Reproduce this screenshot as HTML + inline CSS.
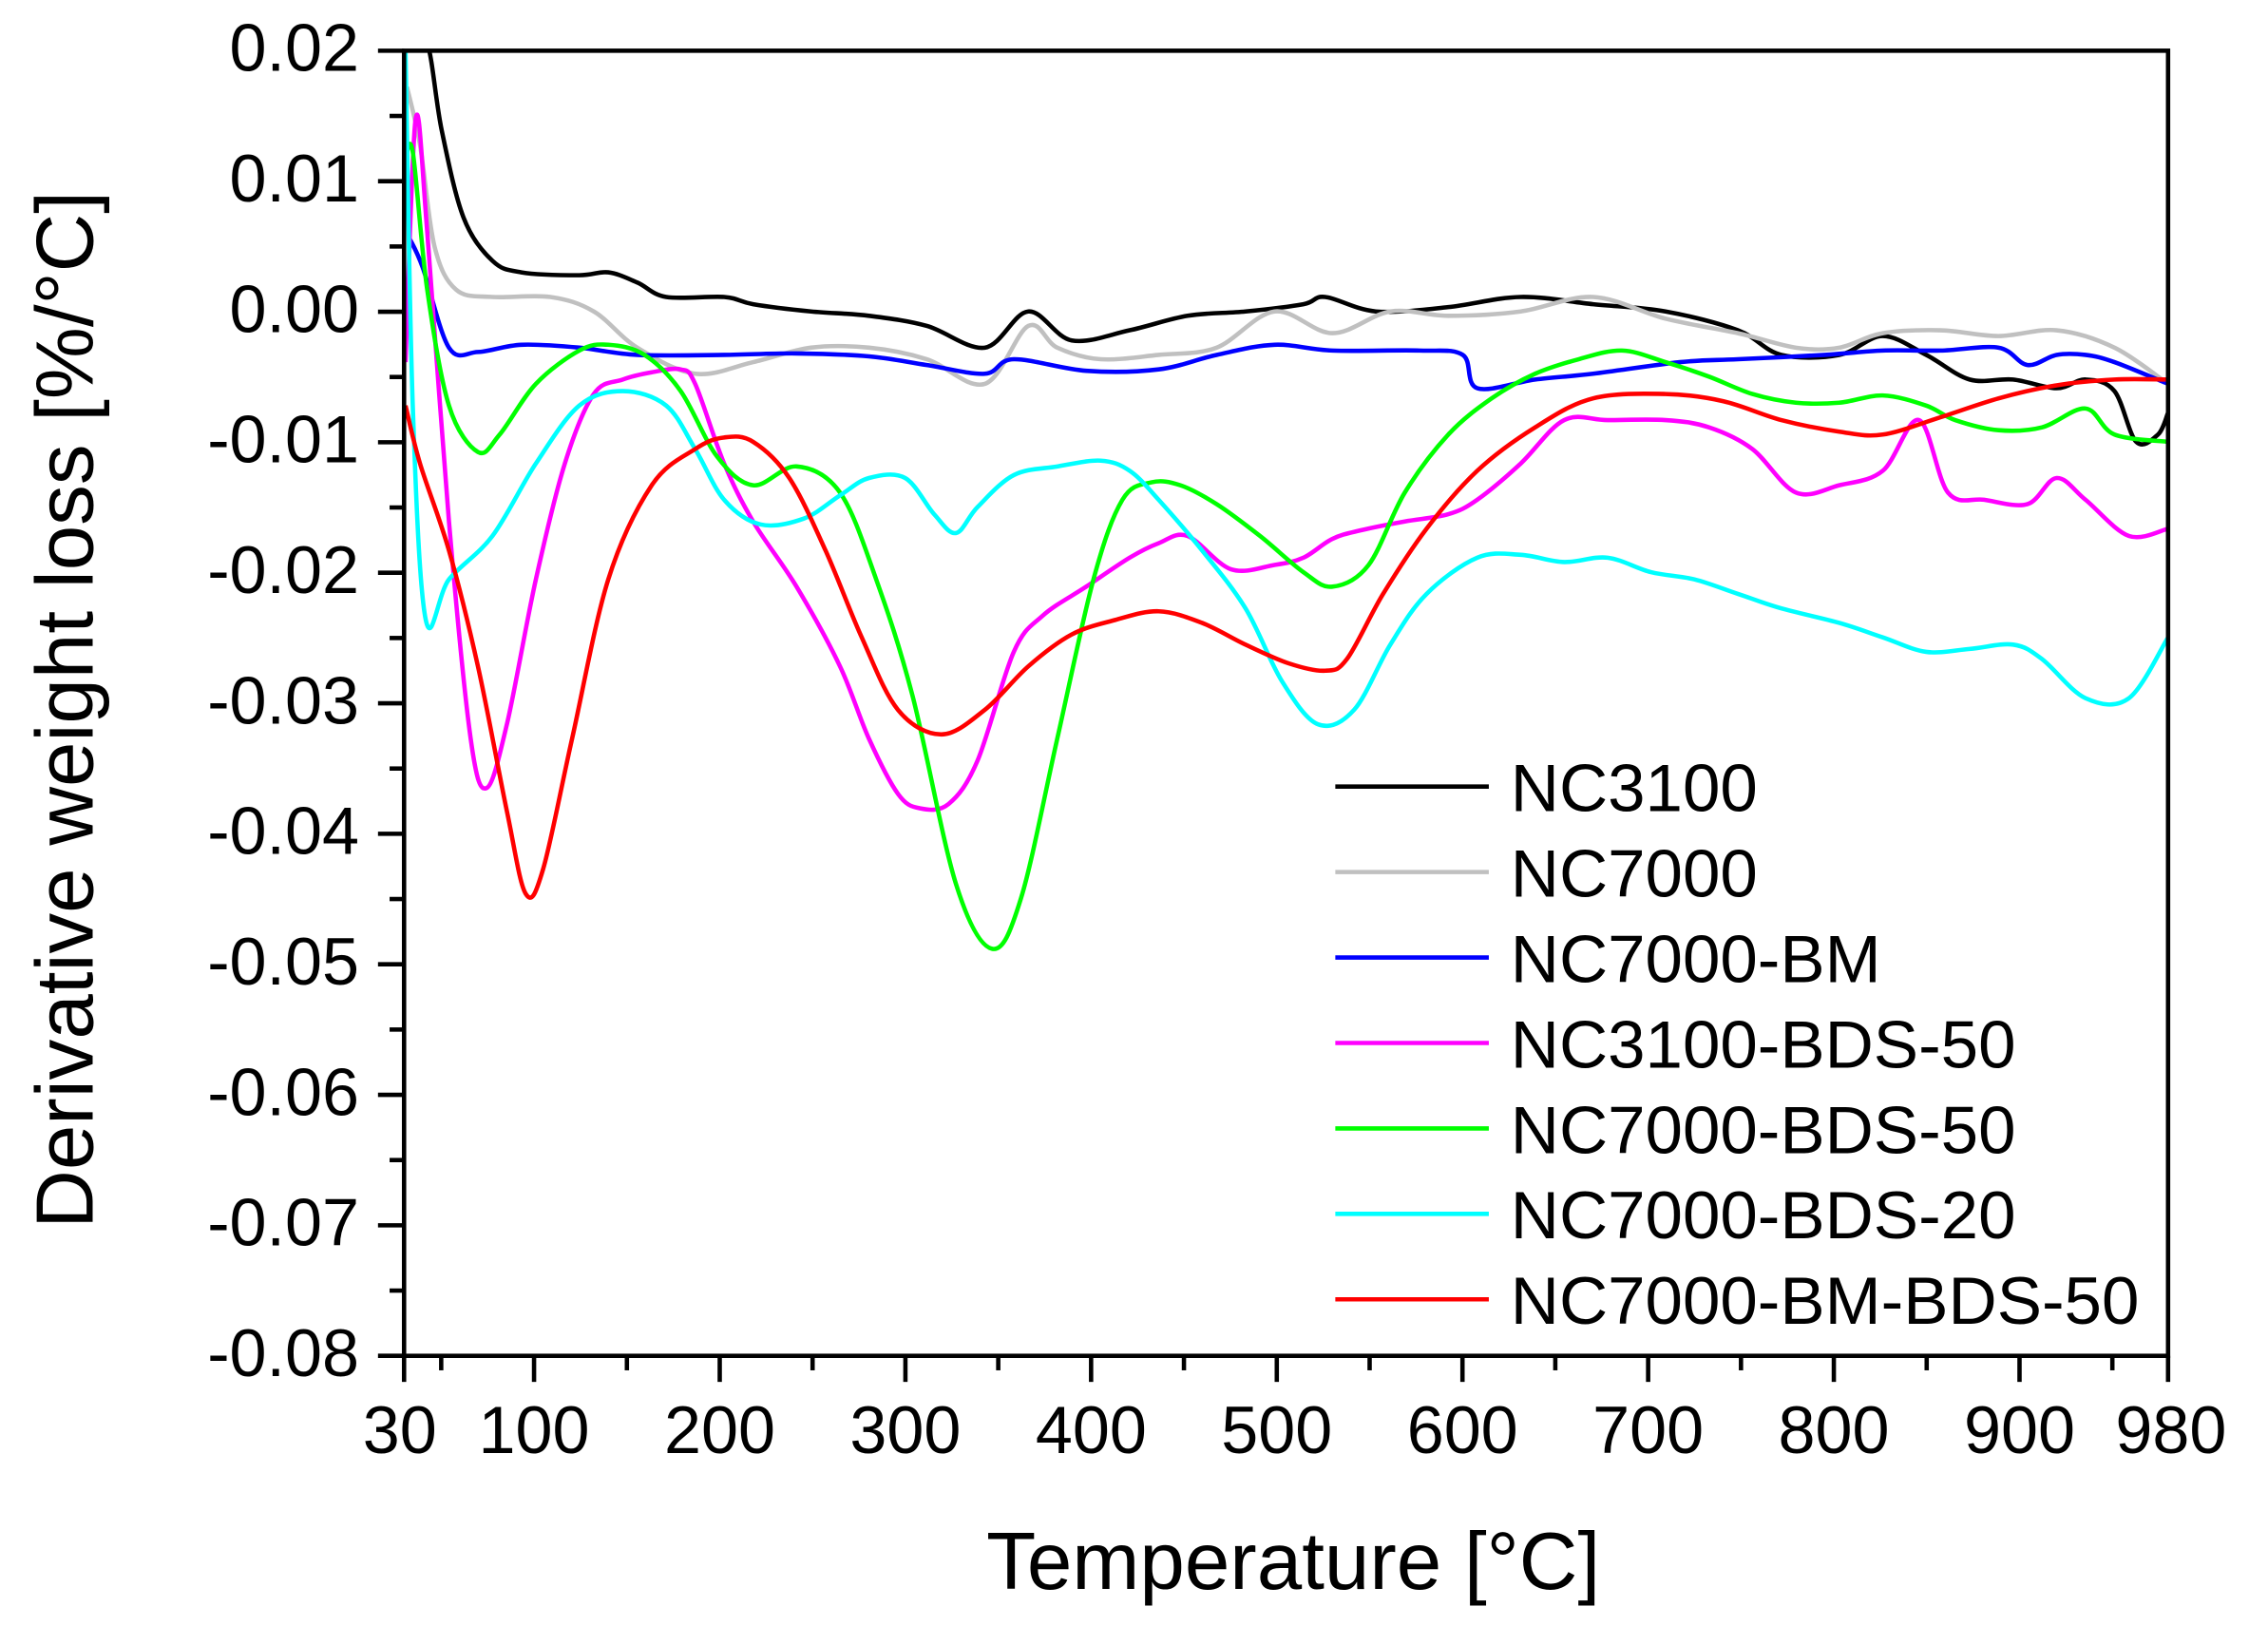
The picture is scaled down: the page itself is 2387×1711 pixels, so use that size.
<!DOCTYPE html>
<html><head><meta charset="utf-8"><style>html,body{margin:0;padding:0;background:#fff}svg{display:block}</style></head>
<body>
<svg id="s" width="2387" height="1711" viewBox="0 0 1566 1122.5" xmlns="http://www.w3.org/2000/svg" font-family="Liberation Sans, Arial, sans-serif">
<defs><clipPath id="c"><rect x="279" y="35" width="1218" height="901"/></clipPath></defs>
<g id="curves" clip-path="url(#c)" fill="none" stroke-width="3" stroke-linejoin="round"></g>
<g id="axes" stroke="#000" stroke-width="3" fill="none"></g>
<g id="labels" font-size="46" fill="#000"></g>
<text x="893" y="1097" font-size="56" text-anchor="middle">Temperature [°C]</text>
<text transform="translate(64,490) rotate(-90)" font-size="56" text-anchor="middle">Derivative weight loss [%/°C]</text>
<g id="legend" font-size="46.5"></g>
</svg>
<script>
const NS="http://www.w3.org/2000/svg";
function el(p,t,a,txt){const e=document.createElementNS(NS,t);for(const k in a)e.setAttribute(k,a[k]);if(txt!==undefined)e.textContent=txt;document.getElementById(p).appendChild(e);return e;}
const L=279,R=1497,T=35,B=936;
const xp=v=>L+(v-30)*(R-L)/950, yp=v=>T+(0.02-v)*(B-T)/0.1;
el('axes','rect',{x:L,y:T,width:R-L,height:B-T});
for(let i=0;i<=20;i++){const v=0.02-i*0.005,y=yp(v),maj=i%2==0;el('axes','line',{x1:L,x2:L-(maj?18:10),y1:y,y2:y});
 if(maj)el('labels','text',{x:248,y:y+14,'text-anchor':'end'},(Math.abs(v)<1e-9?'0.00':v.toFixed(2)));}
const xt=[30,50,100,150,200,250,300,350,400,450,500,550,600,650,700,750,800,850,900,950,980];
xt.forEach(v=>{const maj=(v%100==0)||v==30||v==980;el('axes','line',{x1:xp(v),x2:xp(v),y1:B,y2:B+(maj?18:10)});
 if(maj)el('labels','text',{x:xp(v)+(v==30?-3:v==980?2:0),y:1003,'text-anchor':'middle'},String(v));});
function path(pts){let d='M'+pts[0][0]+','+pts[0][1];for(let i=0;i<pts.length-1;i++){const p0=pts[Math.max(0,i-1)],p1=pts[i],p2=pts[i+1],p3=pts[Math.min(pts.length-1,i+2)];
 const c1=[p1[0]+(p2[0]-p0[0])/6,p1[1]+(p2[1]-p0[1])/6],c2=[p2[0]-(p3[0]-p1[0])/6,p2[1]-(p3[1]-p1[1])/6];d+=`C${c1[0].toFixed(1)},${c1[1].toFixed(1)} ${c2[0].toFixed(1)},${c2[1].toFixed(1)} ${p2[0]},${p2[1]}`;}return d;}
const S=[
["#000000","NC3100",[[283,30],[295,30],[305,90],[320,150],[340,180],[360,188],[400,190],[420,188],[440,195],[460,205],[500,205],[520,210],[560,215],[600,218],[640,225],[680,240],[710,215],[740,235],[780,228],[820,218],[860,215],[900,210],[915,205],[950,215],[1000,212],[1050,205],[1100,210],[1150,215],[1200,228],[1230,245],[1270,245],[1300,232],[1330,245],[1360,262],[1390,262],[1420,268],[1440,262],[1460,270],[1475,305],[1490,300],[1497,285]]],
["#c0c0c0","NC7000",[[281,60],[290,100],[300,170],[315,200],[340,205],[380,205],[410,215],[440,240],[480,258],[520,250],[560,240],[600,240],[640,248],[680,265],[710,225],[730,240],[760,248],[800,245],[840,240],[880,215],[920,230],[960,215],[1000,218],[1050,215],[1100,205],[1150,220],[1200,230],[1240,240],[1270,240],[1300,230],[1340,228],[1380,232],[1420,228],[1460,240],[1497,265]]],
["#0000ff","NC7000-BM",[[283,165],[292,185],[310,240],[330,243],[360,238],[400,240],[440,245],[500,245],[550,244],[600,246],[640,252],[680,258],[700,248],[750,256],[800,255],[840,245],[880,238],[920,242],[980,242],[1010,245],[1020,268],[1060,262],[1100,258],[1160,250],[1200,248],[1260,245],[1300,242],[1340,242],[1380,240],[1400,252],[1420,245],[1440,245],[1460,250],[1497,265]]],
["#ff00ff","NC3100-BDS-50",[[280,250],[287,82],[295,160],[310,360],[325,510],[336,544],[350,500],[370,400],[390,320],[410,272],[430,262],[450,257],[470,255],[480,265],[500,320],[520,360],[550,405],[580,460],[600,510],[620,548],[635,558],[655,555],[675,525],[700,450],[720,425],[750,405],[780,385],[800,375],[820,370],[850,393],[880,390],[900,385],[920,372],[940,366],[970,360],[1000,355],[1020,345],[1050,320],[1080,290],[1110,290],[1150,290],[1180,295],[1210,310],[1240,340],[1270,335],[1300,325],[1325,290],[1345,340],[1370,345],[1400,348],[1420,330],[1440,345],[1470,370],[1497,365]]],
["#00ff00","NC7000-BDS-50",[[280,110],[285,105],[295,200],[310,280],[330,312],[345,300],[370,265],[400,242],[420,238],[445,245],[470,270],[495,315],[520,335],[550,322],[580,340],[605,400],[630,480],[660,610],[685,655],[705,620],[730,510],[755,400],[775,345],[795,333],[815,335],[840,348],[870,370],[900,395],[920,405],[945,390],[970,340],[1000,300],[1030,275],[1060,258],[1090,248],[1120,242],[1150,250],[1180,260],[1210,272],[1240,278],[1270,278],[1300,273],[1330,280],[1350,290],[1380,297],[1410,295],[1440,282],[1460,300],[1497,305]]],
["#00ffff","NC7000-BDS-20",[[280,35],[285,280],[294,428],[310,400],[340,370],[370,320],[400,280],[430,270],[460,280],[480,310],[500,345],[525,362],[555,358],[580,342],[600,330],[625,330],[645,355],[660,368],[675,350],[700,328],[730,322],[760,318],[780,325],[800,345],[830,380],[860,420],[885,470],[910,500],[935,490],[960,445],[985,410],[1020,385],[1050,383],[1080,388],[1110,385],[1140,395],[1170,400],[1200,410],[1230,420],[1270,430],[1300,440],[1330,450],[1360,448],[1390,445],[1410,455],[1440,482],[1470,482],[1497,440]]],
["#ff0000","NC7000-BM-BDS-50",[[280,280],[290,320],[310,380],[330,460],[350,560],[363,617],[375,600],[395,510],[420,400],[450,335],[480,310],[500,302],[520,305],[545,330],[570,380],[595,440],[620,490],[650,507],[680,490],[710,460],[740,438],[770,428],[800,422],[830,430],[860,445],[890,458],[915,463],[930,455],[955,410],[985,365],[1020,325],[1060,295],[1100,275],[1150,272],[1190,277],[1230,290],[1270,298],[1300,300],[1340,288],[1380,275],[1420,266],[1460,262],[1497,262]]]];
S.forEach((s,i)=>{el('curves','path',{d:path(s[2]),stroke:s[0]});
 const y=543+i*59;el('legend','line',{x1:922,x2:1028,y1:y,y2:y,stroke:s[0],'stroke-width':3});
 el('legend','text',{x:1043,y:y+17},s[1]);});
</script>
</body></html>
